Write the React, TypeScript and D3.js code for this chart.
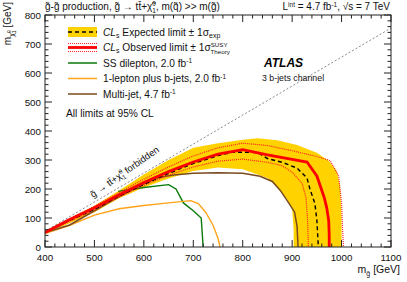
import React from "react";
import * as d3 from "d3";

// [m(gluino), m(LSP)] in GeV
const bandUpper = [[400, 55], [450, 98], [500, 142], [550, 195], [600, 250], [650, 300], [700, 342], [750, 358], [800, 370], [830, 375], [870, 368], [910, 352], [950, 325], [975, 296], [990, 262], [997, 210], [1000, 100], [1000, 0]];
const bandLower = [[903, 0], [903, 60], [900, 130], [890, 165], [870, 205], [850, 238], [800, 268], [750, 274], [700, 262], [650, 236], [600, 205], [550, 168], [500, 120], [450, 82], [400, 46]];
const expectedLimit = [[400, 50], [450, 92], [500, 130], [550, 176], [600, 216], [650, 254], [700, 288], [750, 315], [780, 327], [830, 326], [850, 305], [880, 292], [910, 272], [930, 238], [936, 200], [946, 150], [950, 93], [953, 0]];
const observedLimit = [[400, 50], [450, 95], [500, 135], [550, 180], [600, 222], [650, 260], [700, 293], [750, 320], [800, 336], [850, 318], [900, 302], [930, 293], [950, 245], [958, 205], [965, 170], [970, 135], [974, 90], [975, 40], [975, 0]];
const theoryUp = [[400, 52], [450, 98], [500, 140], [550, 188], [600, 234], [650, 276], [700, 314], [750, 342], [800, 358], [850, 350], [900, 332], [950, 312], [977, 298], [994, 245], [1000, 150], [1002, 60], [1004, 0]];
const theoryDown = [[400, 48], [450, 88], [500, 128], [550, 172], [600, 212], [650, 248], [700, 276], [750, 296], [800, 303], [850, 292], [880, 280], [900, 258], [920, 220], [928, 170], [931, 100], [933, 0]];
const ssDilepton = [[548, 192], [600, 205], [650, 215], [665, 200], [680, 152], [700, 125], [716, 100], [720, 0]];
const oneLepton = [[400, 46], [450, 75], [500, 110], [550, 132], [600, 143], [650, 152], [695, 160], [710, 150], [725, 120], [740, 75], [750, 30], [754, 0]];
const multiJet = [[400, 50], [450, 76], [500, 125], [550, 175], [600, 218], [630, 240], [660, 248], [700, 254], [750, 256], [800, 254], [835, 244], [860, 226], [876, 195], [890, 160], [905, 120], [910, 70], [912, 0]];
const forbiddenLine = [[400, 55], [1100, 755]];
const xTicks = [400, 500, 600, 700, 800, 900, 1000, 1100];
const yTicks = [0, 100, 200, 300, 400, 500, 600, 700, 800];

const W = 407;
const H = 282;
const left = 45, right = 391, top = 15, bottom = 247;
const font = "'Liberation Sans', Arial, sans-serif";

const x = d3.scaleLinear().domain([400, 1100]).range([left, right]);
const y = d3.scaleLinear().domain([0, 800]).range([bottom, top]);
const path = d3.line<number[]>().x((d) => x(d[0])).y((d) => y(d[1]));

const minorX = d3.range(400, 1101, 20);
const minorY = d3.range(0, 801, 20);

// chi-tilde with stacked 0 / 1, followed by the rest of the text
function Chi({ size, after }: { size: number; after: string }) {
  return (
    <>
      <tspan>χ̃</tspan>
      <tspan fontSize={size * 0.65} dy={-size * 0.4}>0</tspan>
      <tspan fontSize={size * 0.65} dx={-size * 0.36} dy={size * 0.7}>1</tspan>
      <tspan dy={-size * 0.3}>{after}</tspan>
    </>
  );
}

export default function App() {
  const legendRows = [
    { label: "SS dilepton, 2.0 fb", color: "#0a7a0a", y: 63 },
    { label: "1-lepton plus b-jets, 2.0 fb", color: "#ffa31a", y: 78.5 },
    { label: "Multi-jet, 4.7 fb", color: "#7a4a1e", y: 94 },
  ];
  const band = [...bandUpper, ...bandLower];
  const lf = 10.2;

  return (
    <svg width={W} height={H} style={{ position: "absolute", left: 0, top: 0, background: "#fff" }} fontFamily={font}>
      <defs>
        <clipPath id="plot">
          <rect x={left} y={top} width={right - left} height={bottom - top} />
        </clipPath>
      </defs>

      <g clipPath="url(#plot)">
        <path d={path(band) + "Z"} fill="#ffd200" stroke="none" />
        <path d={path(forbiddenLine)!} fill="none" stroke="#888" strokeWidth={1} strokeDasharray="2,2" />
        <path d={path(ssDilepton)!} fill="none" stroke="#0a7a0a" strokeWidth={1.4} />
        <path d={path(oneLepton)!} fill="none" stroke="#ffa31a" strokeWidth={1.4} />
        <path d={path(multiJet)!} fill="none" stroke="#7a4a1e" strokeWidth={1.5} />
        <path d={path(theoryUp)!} fill="none" stroke="#ff2020" strokeWidth={1.2} strokeDasharray="1,1" />
        <path d={path(theoryDown)!} fill="none" stroke="#ff2020" strokeWidth={1.2} strokeDasharray="1,1" />
        <path d={path(expectedLimit)!} fill="none" stroke="#000" strokeWidth={1.4} strokeDasharray="4,3" />
        <path d={path(observedLimit)!} fill="none" stroke="#ff0000" strokeWidth={2.8} />
      </g>

      {/* frame and ticks */}
      <rect x={left} y={top} width={right - left} height={bottom - top} fill="none" stroke="#222" strokeWidth={1} />
      {minorX.map((v) => {
        const l = v % 100 === 0 ? 7 : 3.5;
        return (
          <g key={"x" + v} stroke="#222" strokeWidth={1}>
            <line x1={x(v)} x2={x(v)} y1={bottom} y2={bottom - l} />
            <line x1={x(v)} x2={x(v)} y1={top} y2={top + l} />
          </g>
        );
      })}
      {minorY.map((v) => {
        const l = v % 100 === 0 ? 7 : 3.5;
        return (
          <g key={"y" + v} stroke="#222" strokeWidth={1}>
            <line x1={left} x2={left + l} y1={y(v)} y2={y(v)} />
            <line x1={right} x2={right - l} y1={y(v)} y2={y(v)} />
          </g>
        );
      })}
      {xTicks.map((v) => (
        <text key={"xl" + v} x={x(v)} y={bottom + 13.5} textAnchor="middle" fontSize={9.8} fill="#111">{v}</text>
      ))}
      {yTicks.map((v) => (
        <text key={"yl" + v} x={41} y={y(v) + 3.5} textAnchor="end" fontSize={9.8} fill="#111">{v}</text>
      ))}

      {/* axis titles */}
      <text x={400} y={273} textAnchor="end" fontSize={10.5} fill="#111">
        m<tspan fontSize={7} dy={2.5}>g̃</tspan><tspan dy={-2.5}> [GeV]</tspan>
      </text>
      <text transform="translate(11,2) rotate(-90)" textAnchor="end" fontSize={10} fill="#111">
        m<tspan fontSize={7} dy={2.5}>χ̃</tspan><tspan fontSize={5} dy={-3}>0</tspan><tspan fontSize={5} dx={-2.8} dy={5}>1</tspan><tspan dy={-4.5}> [GeV]</tspan>
      </text>

      {/* header */}
      <text x={45} y={10} fontSize={10} fill="#111">
        g̃-g̃ production, g̃ → tt̄+<Chi size={10} after=", m(q̃) >> m(g̃)" />
      </text>
      <text x={390} y={10} textAnchor="end" fontSize={10} fill="#111">
        L<tspan fontSize={6.5} dy={-3.5}>int</tspan><tspan dy={3.5}> = 4.7 fb</tspan><tspan fontSize={6.5} dy={-3.5}>-1</tspan><tspan dy={3.5}>,  √s = 7 TeV</tspan>
      </text>

      <text x={264} y={67} fontSize={12} fontWeight="bold" fontStyle="italic" fill="#000">ATLAS</text>
      <text x={262} y={81} fontSize={8.8} fill="#111">3 b-jets channel</text>

      {/* legend */}
      <rect x={68} y={27} width={29} height={10} fill="#ffd200" />
      <line x1={68} x2={97} y1={32} y2={32} stroke="#000" strokeWidth={1.4} strokeDasharray="4,3" />
      <text x={103} y={35.5} fontSize={lf} fill="#111">
        <tspan fontStyle="italic">CL</tspan><tspan fontSize={7} dy={2}>s</tspan><tspan dy={-2}> Expected limit ± 1σ</tspan><tspan fontSize={7} dy={2}>exp</tspan>
      </text>
      <line x1={68} x2={97} y1={43.5} y2={43.5} stroke="#ff2020" strokeWidth={1.2} strokeDasharray="1,1" />
      <line x1={68} x2={97} y1={47.5} y2={47.5} stroke="#ff0000" strokeWidth={2.8} />
      <line x1={68} x2={97} y1={51.5} y2={51.5} stroke="#ff2020" strokeWidth={1.2} strokeDasharray="1,1" />
      <text x={103} y={51} fontSize={lf} fill="#111">
        <tspan fontStyle="italic">CL</tspan><tspan fontSize={7} dy={2}>s</tspan><tspan dy={-2}> Observed limit ± 1σ</tspan><tspan fontSize={6.2} dy={-4}>SUSY</tspan><tspan fontSize={6.2} dx={-17} dy={7}>Theory</tspan>
      </text>
      {legendRows.map((r) => (
        <g key={r.label}>
          <line x1={68} x2={97} y1={r.y} y2={r.y} stroke={r.color} strokeWidth={1.5} />
          <text x={103} y={r.y + 3.5} fontSize={lf} fill="#111">
            {r.label}<tspan fontSize={6.5} dy={-3.5}>-1</tspan>
          </text>
        </g>
      ))}
      <text x={66} y={117} fontSize={lf} fill="#111">All limits at 95% CL</text>

      {/* kinematic boundary label */}
      <text transform="translate(93,198) rotate(-35)" fontSize={9.5} fill="#111">
        g̃ → tt̄+<Chi size={9.5} after=" forbidden" />
      </text>
    </svg>
  );
}
